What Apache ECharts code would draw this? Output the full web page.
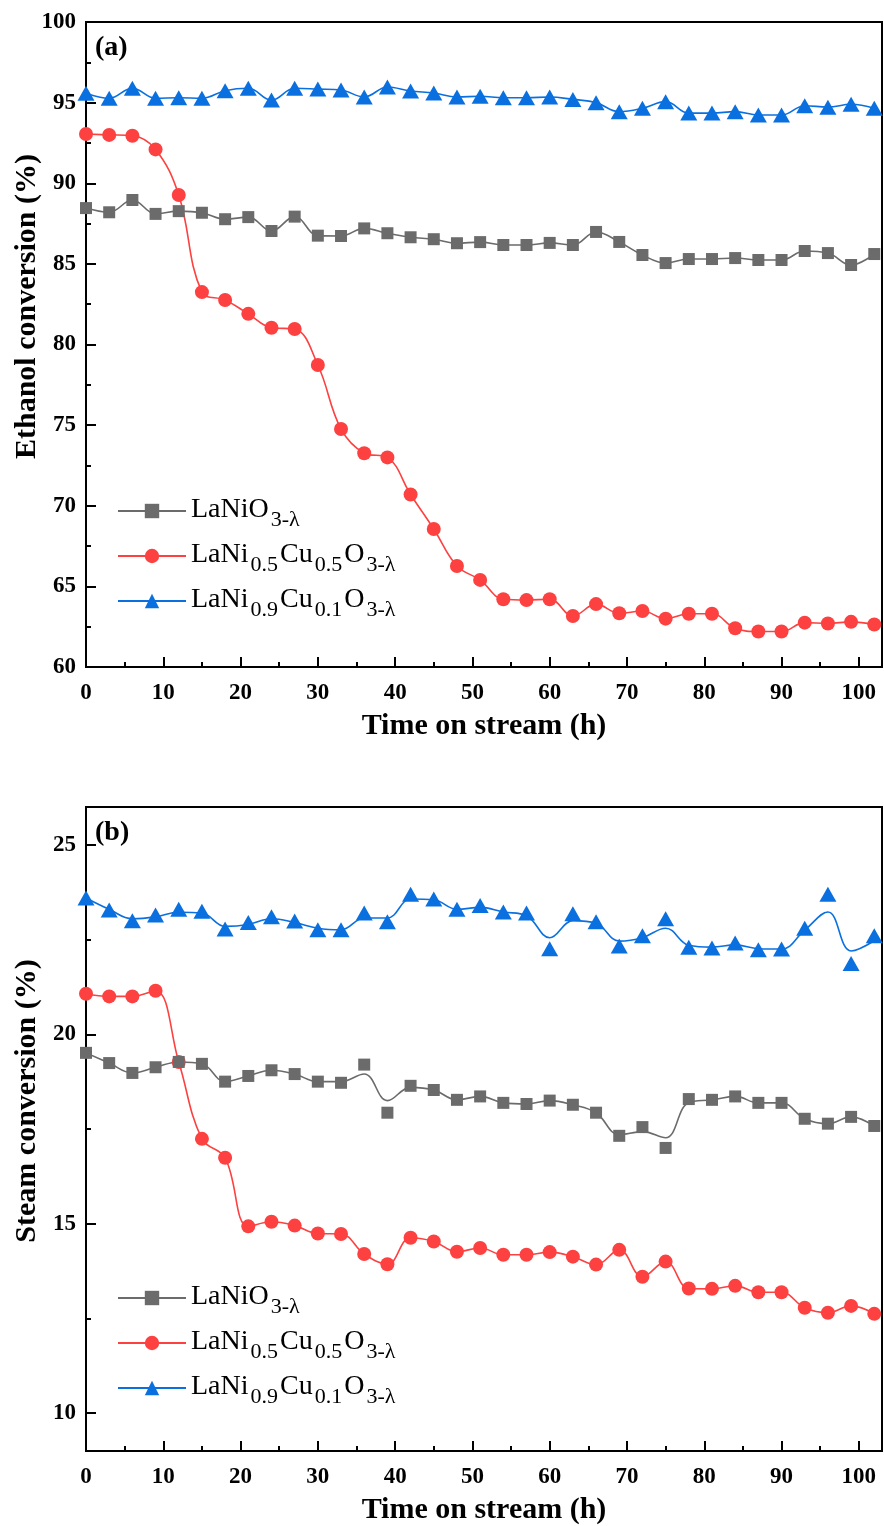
<!DOCTYPE html>
<html lang="en">
<head>
    <meta charset="UTF-8">
    <title>Ethanol / steam conversion vs time on stream</title>
    <style>
        * {
            margin: 0;
            padding: 0;
            box-sizing: border-box;
        }

        .chart {
            width: 884px;
            height: 1526px;
            background: #fff;
        }
    </style>
</head>
<body>
<div class="chart" id="chart"></div>

<script src="https://cdn.jsdelivr.net/npm/echarts@6.0.0/dist/echarts.min.js"></script>
<script>
    // time on stream (h)
    const hours = [0, 3, 6, 9, 12, 15, 18, 21, 24, 27, 30, 33, 36, 39, 42, 45, 48, 51,
        54, 57, 60, 63, 66, 69, 72, 75, 78, 81, 84, 87, 90, 93, 96, 99, 102]

    // (a) ethanol conversion (%)
    const ethNi = [88.46, 88.2, 88.96, 88.1, 88.27, 88.17, 87.77, 87.9, 87.04, 87.93, 86.75, 86.73,
        87.2, 86.9, 86.65, 86.53, 86.28, 86.35, 86.17, 86.17, 86.3, 86.17, 86.98, 86.36, 85.55,
        85.05, 85.3, 85.3, 85.36, 85.24, 85.24, 85.8, 85.67, 84.93, 85.61]
    const ethNiCu55 = [93.05, 93.0, 92.95, 92.1, 89.27, 83.25, 82.76, 81.9, 81.04, 80.96, 78.73,
        74.76, 73.26, 73.0, 70.7, 68.56, 66.26, 65.4, 64.2, 64.15, 64.2, 63.16, 63.9, 63.33,
        63.47, 63.0, 63.3, 63.3, 62.4, 62.2, 62.2, 62.75, 62.7, 62.8, 62.64]
    const ethNiCu91 = [95.58, 95.27, 95.89, 95.27, 95.3, 95.27, 95.74, 95.89, 95.16, 95.89, 95.84,
        95.78, 95.35, 95.97, 95.72, 95.6, 95.35, 95.4, 95.3, 95.3, 95.35, 95.2, 95.0, 94.44,
        94.65, 95.06, 94.35, 94.35, 94.44, 94.23, 94.23, 94.81, 94.72, 94.9, 94.65]

    // (b) steam conversion (%) - measured points
    const steamNi = [19.51, 19.24, 18.98, 19.13, 19.27, 19.22, 18.75, 18.9, 19.05, 18.95, 18.75,
        18.72, 19.2, 17.93, 18.64, 18.53, 18.27, 18.36, 18.19, 18.16, 18.25, 18.14, 17.93,
        17.32, 17.55, 17.0, 18.29, 18.27, 18.36, 18.19, 18.19, 17.77, 17.64, 17.82, 17.58]
    const steamNiCu55 = [21.07, 21.0, 21.0, 21.15, 19.27, 17.24, 16.74, 14.93, 15.05, 14.95, 14.74,
        14.73, 14.2, 13.93, 14.63, 14.53, 14.26, 14.36, 14.18, 14.18, 14.25, 14.13, 13.92,
        14.31, 13.6, 14.0, 13.29, 13.28, 13.36, 13.19, 13.19, 12.78, 12.65, 12.83, 12.62]
    const steamNiCu91 = [23.6, 23.28, 23.0, 23.15, 23.3, 23.25, 22.78, 22.95, 23.1, 22.99, 22.76,
        22.76, 23.2, 22.97, 23.7, 23.57, 23.3, 23.4, 23.23, 23.2, 22.26, 23.18, 22.97, 22.33,
        22.6, 23.05, 22.3, 22.28, 22.41, 22.23, 22.25, 22.8, 23.7, 21.87, 22.6]

    // (b) fitted curves as drawn in the figure (they miss some points)
    const steamNiCurve = [19.51, 19.24, 18.98, 19.13, 19.27, 19.22, 18.75, 18.9, 19.05, 18.95, 18.75,
        18.75, 18.95, 18.25, 18.6, 18.53, 18.27, 18.36, 18.19, 18.16, 18.25, 18.14, 17.93,
        17.35, 17.43, 17.27, 18.2, 18.27, 18.36, 18.19, 18.19, 17.77, 17.64, 17.82, 17.58]
    const steamNiCu91Curve = [23.6, 23.3, 23.05, 23.1, 23.22, 23.2, 22.85, 22.9, 23.05, 22.95, 22.8,
        22.76, 23.07, 23.07, 23.57, 23.55, 23.3, 23.35, 23.23, 23.13, 22.55, 23.0, 22.93, 22.46,
        22.55, 22.8, 22.35, 22.3, 22.36, 22.26, 22.25, 22.75, 23.23, 22.2, 22.47]

    const xLabelValues = [0, 10, 20, 30, 40, 50, 60, 70, 80, 90, 100]
    const xMinorValues = [5, 15, 25, 35, 45, 55, 65, 75, 85, 95]
    const steamLabelValues = [10, 15, 20, 25]
    const steamMinorValues = [12.5, 17.5, 22.5]

    const names = ['LaNiO3-λ', 'LaNi0.5Cu0.5O3-λ', 'LaNi0.9Cu0.1O3-λ']
    const legendText = {
        'LaNiO3-λ': '{m|LaNiO}{s|3-λ}',
        'LaNi0.5Cu0.5O3-λ': '{m|LaNi}{s|0.5}{m|Cu}{s|0.5}{m|O}{s|3-λ}',
        'LaNi0.9Cu0.1O3-λ': '{m|LaNi}{s|0.9}{m|Cu}{s|0.1}{m|O}{s|3-λ}'
    }

    const GRAY = '#6b6b6b'
    const RED = '#fd4040'
    const BLUE = '#0a70e0'
    const SERIF = 'Liberation Serif'

    const zip = (xs, ys) => xs.map((x, i) => [x, ys[i]])

    const chart = echarts.init(document.getElementById('chart'))

    const black = { color: '#000', width: 2 }
    const tickLabel = { fontFamily: SERIF, fontWeight: 'bold', fontSize: 23, color: '#000' }
    const titleFont = { fontFamily: SERIF, fontWeight: 'bold', fontSize: 30, color: '#000' }

    function mainX(gridIndex) {
        return {
            gridIndex: gridIndex, type: 'value', min: 0, max: 103, position: 'bottom',
            axisLine: { show: true, onZero: false, lineStyle: black },
            axisTick: { inside: true, length: 10, lineStyle: black, customValues: xLabelValues },
            axisLabel: Object.assign({ margin: 15, customValues: xLabelValues }, tickLabel),
            splitLine: { show: false },
            name: 'Time on stream (h)', nameLocation: 'middle', nameGap: 44, nameMoveOverlap: false,
            nameTextStyle: titleFont
        }
    }
    function minorX(gridIndex) {
        return {
            gridIndex: gridIndex, type: 'value', min: 0, max: 103, position: 'bottom',
            axisLine: { show: false },
            axisTick: { inside: true, length: 5, lineStyle: black, customValues: xMinorValues },
            axisLabel: { show: false },
            splitLine: { show: false }
        }
    }

    const legendRich = {
        m: { fontFamily: SERIF, fontSize: 28, color: '#000', lineHeight: 30, verticalAlign: 'top' },
        s: { fontFamily: SERIF, fontSize: 22, color: '#000', lineHeight: 22, verticalAlign: 'top', padding: [13, 2, 0, 2] }
    }
    function legendAt(top) {
        return {
            data: names, orient: 'vertical', left: 117, top: top, padding: 0,
            itemWidth: 68, itemHeight: 18, itemGap: 10,
            selectedMode: false,
            formatter: n => legendText[n],
            textStyle: { rich: legendRich }
        }
    }

    function lineSeries(name, color, symbol, size, data, xi, yi, showSymbol) {
        return {
            name: name, type: 'line', xAxisIndex: xi, yAxisIndex: yi,
            data: data, smooth: 0.4, symbol: symbol, symbolSize: size,
            showSymbol: showSymbol, clip: false,
            lineStyle: { color: color, width: 1.6 },
            itemStyle: { color: color },
            z: 3
        }
    }
    function dots(name, color, symbol, size, data, xi, yi) {
        return {
            name: name, type: 'scatter', xAxisIndex: xi, yAxisIndex: yi,
            data: data, symbol: symbol, symbolSize: size,
            itemStyle: { color: color, opacity: 1 }, z: 4
        }
    }

    const gridBase = { left: 86, width: 796, show: true, borderColor: '#000', borderWidth: 2, outerBoundsMode: 'none', containLabel: false }

    const option = {
        animation: false,
        backgroundColor: '#fff',
        title: [
            { text: '(a)', left: 95, top: 34, padding: 0, textStyle: { fontFamily: SERIF, fontWeight: 'bold', fontSize: 28, color: '#000' } },
            { text: '(b)', left: 95, top: 819, padding: 0, textStyle: { fontFamily: SERIF, fontWeight: 'bold', fontSize: 28, color: '#000' } }
        ],
        legend: [legendAt(496), legendAt(1283)],
        grid: [
            Object.assign({ top: 22, height: 645 }, gridBase),
            Object.assign({ top: 807, height: 644 }, gridBase)
        ],
        xAxis: [mainX(0), minorX(0), mainX(1), minorX(1)],
        yAxis: [
            {
                gridIndex: 0, type: 'value', min: 60, max: 100, interval: 5,
                axisLine: { show: true, lineStyle: black },
                axisTick: { inside: true, length: 10, lineStyle: black },
                minorTick: { show: true, splitNumber: 2, length: 5, lineStyle: black },
                axisLabel: Object.assign({ margin: 10 }, tickLabel),
                splitLine: { show: false },
                name: 'Ethanol conversion (%)', nameLocation: 'middle', nameGap: 44, nameMoveOverlap: false,
                nameTextStyle: Object.assign({ padding: [0, 0, 0, 76] }, titleFont)
            },
            {
                gridIndex: 1, type: 'value', min: 9, max: 26,
                axisLine: { show: true, lineStyle: black },
                axisTick: { inside: true, length: 10, lineStyle: black, customValues: steamLabelValues },
                axisLabel: Object.assign({ margin: 10, customValues: steamLabelValues }, tickLabel),
                splitLine: { show: false },
                name: 'Steam conversion (%)', nameLocation: 'middle', nameGap: 44, nameMoveOverlap: false,
                nameTextStyle: Object.assign({ padding: [0, 0, 0, 56] }, titleFont)
            },
            {
                gridIndex: 1, type: 'value', min: 9, max: 26, position: 'left',
                axisLine: { show: false },
                axisTick: { inside: true, length: 5, lineStyle: black, customValues: steamMinorValues },
                axisLabel: { show: false },
                splitLine: { show: false }
            }
        ],
        series: [
            // (a)
            lineSeries(names[0], GRAY, 'rect', 12, zip(hours, ethNi), 0, 0, true),
            lineSeries(names[1], RED, 'circle', 14, zip(hours, ethNiCu55), 0, 0, true),
            lineSeries(names[2], BLUE, 'triangle', [17, 15], zip(hours, ethNiCu91), 0, 0, true),
            // (b)
            lineSeries(names[0], GRAY, 'rect', 12, zip(hours, steamNiCurve), 2, 1, false),
            dots(names[0], GRAY, 'rect', 12, zip(hours, steamNi), 2, 1),
            lineSeries(names[1], RED, 'circle', 14, zip(hours, steamNiCu55), 2, 1, true),
            lineSeries(names[2], BLUE, 'triangle', [17, 15], zip(hours, steamNiCu91Curve), 2, 1, false),
            dots(names[2], BLUE, 'triangle', [17, 15], zip(hours, steamNiCu91), 2, 1)
        ]
    }

    chart.setOption(option)
</script>
</body>
</html>
